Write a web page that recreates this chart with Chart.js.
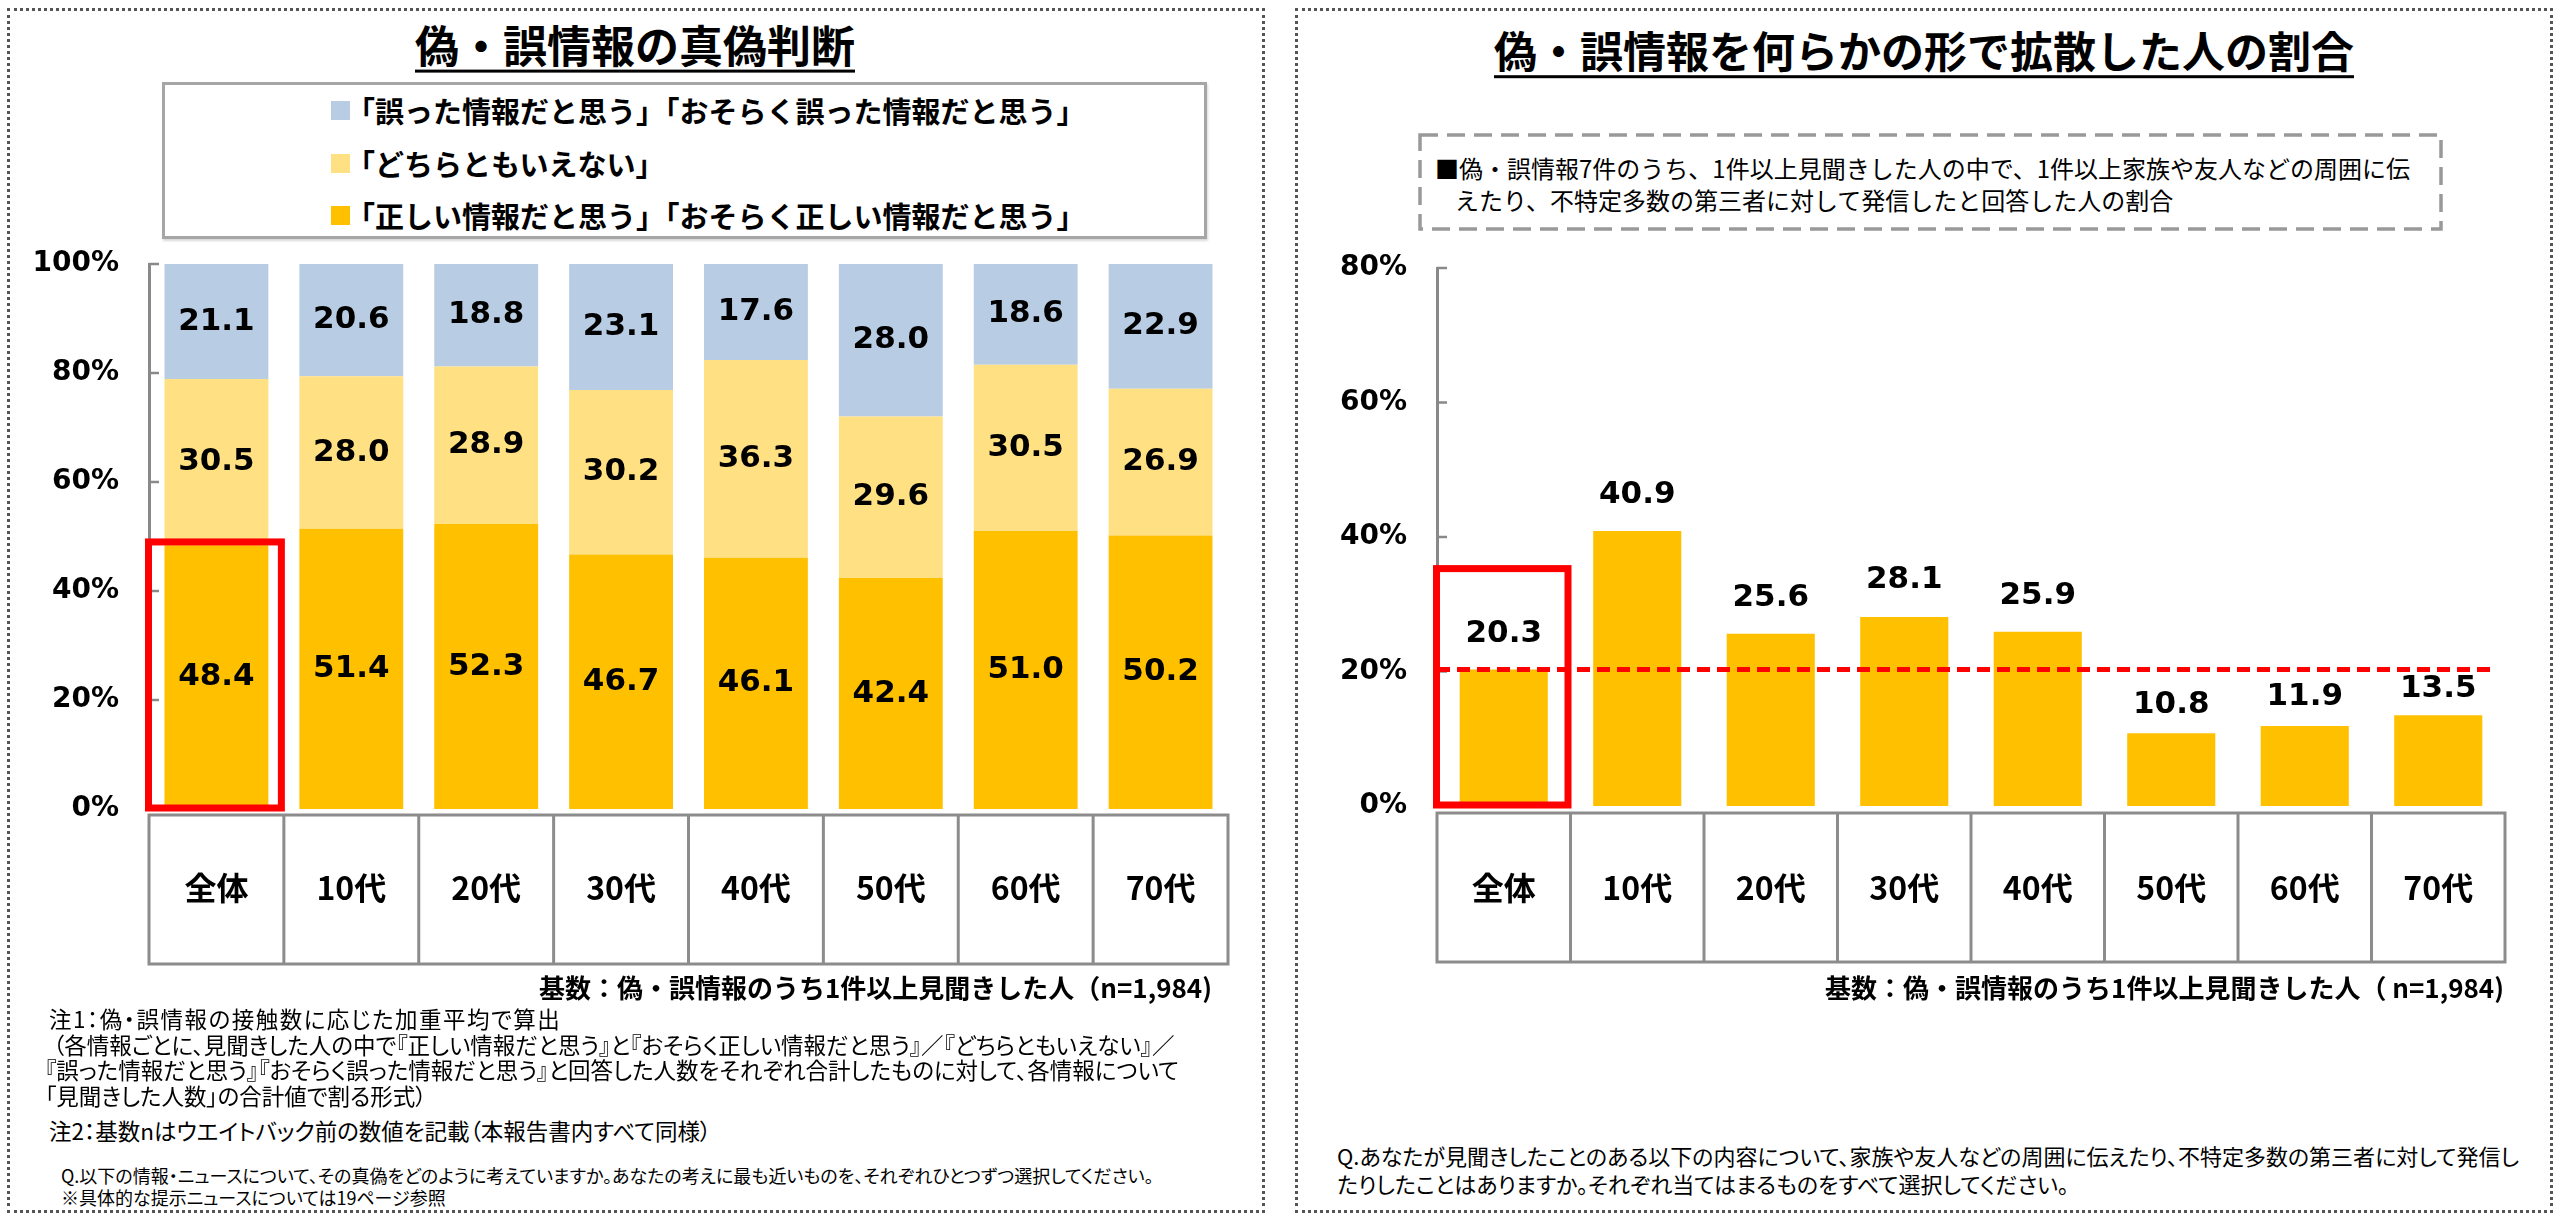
<!DOCTYPE html>
<html lang="ja">
<head>
<meta charset="utf-8">
<title>偽・誤情報の真偽判断／拡散した人の割合</title>
<script src="https://cdn.jsdelivr.net/npm/chart.js@4.4.1/dist/chart.umd.min.js"></script>
<style>
  html, body { margin: 0; padding: 0; background: #fff; }
  body { width: 2560px; height: 1220px; position: relative; overflow: hidden;
         font-family: "Noto Sans CJK JP", sans-serif; color: #000; }
  .panel { position: absolute; box-sizing: border-box; border: 3px dotted #555; }
  .t { position: absolute; white-space: nowrap; line-height: 1.2; transform: translateY(-50%); }
  .title { font-size: 44px; font-weight: 700; transform: translate(-50%, -50%);
           text-decoration: underline; text-decoration-thickness: 3px; text-underline-offset: 7px; }
  .legend { position: absolute; box-sizing: border-box; left: 162px; top: 82px; width: 1045px; height: 157px;
            border: 3px solid #a6a6a6; box-shadow: 1px 2px 2px rgba(0,0,0,0.15); }
  .mark { position: absolute; width: 19px; height: 19px; }
  .leg { font-size: 29px; font-weight: 700; }
  .base { font-size: 26px; font-weight: 700; transform: translate(-100%, -50%); }
  .note { font-size: 22.5px; font-feature-settings: "palt"; }
  .q { font-feature-settings: "palt"; }
  .box { font-size: 24px; }
  canvas { position: absolute; }
</style>
</head>
<body>
<div class="panel" style="left:7px; top:8px; width:1258px; height:1205px;"></div>
<div class="panel" style="left:1295px; top:8px; width:1258px; height:1205px;"></div>

<div class="t title" style="left:635px; top:44px;">偽・誤情報の真偽判断</div>
<div class="t title" style="left:1924px; top:50px; font-size:43px;">偽・誤情報を何らかの形で拡散した人の割合</div>

<div class="legend"></div>
<div id="legendRows"></div>

<svg style="position:absolute; left:1418px; top:133px;" width="1026" height="98">
  <rect x="2" y="2" width="1021" height="94" fill="none" stroke="#999" stroke-width="3.5" stroke-dasharray="18 9"/>
</svg>
<div class="t box" style="left:1435px; top:168px;">■偽・誤情報7件のうち、1件以上見聞きした人の中で、1件以上家族や友人などの周囲に伝</div>
<div class="t box" style="left:1455px; top:200px;">えたり、不特定多数の第三者に対して発信したと回答した人の割合</div>

<canvas id="judgeChart" width="1260" height="740" style="left:0px; top:240px;"></canvas>
<canvas id="spreadChart" width="1260" height="740" style="left:1290px; top:240px;"></canvas>

<div class="t base" style="left:1212px; top:987px;">基数：偽・誤情報のうち1件以上見聞きした人（n=1,984)</div>
<div class="t base" style="left:2504px; top:987px;">基数：偽・誤情報のうち1件以上見聞きした人（ n=1,984)</div>

<div class="t note" style="left:49px; top:1018px; letter-spacing:1.5px;">注1：偽・誤情報の接触数に応じた加重平均で算出</div>
<div class="t note" style="left:53px; top:1044px;">（各情報ごとに、見聞きした人の中で『正しい情報だと思う』と『おそらく正しい情報だと思う』／『どちらともいえない』／</div>
<div class="t note" style="left:45px; top:1069px;">『誤った情報だと思う』『おそらく誤った情報だと思う』と回答した人数をそれぞれ合計したものに対して、各情報について</div>
<div class="t note" style="left:45px; top:1095px;">「見聞きした人数」の合計値で割る形式）</div>
<div class="t note" style="left:49px; top:1130px;">注2：基数nはウエイトバック前の数値を記載（本報告書内すべて同様）</div>
<div class="t q" style="left:61px; top:1176px; font-size:18px;">Q.以下の情報・ニュースについて、その真偽をどのように考えていますか。あなたの考えに最も近いものを、それぞれひとつずつ選択してください。</div>
<div class="t q" style="left:61px; top:1198px; font-size:18px;">※具体的な提示ニュースについては19ページ参照</div>

<div class="t q" style="left:1337px; top:1155px; font-size:22px;">Q.あなたが見聞きしたことのある以下の内容について、家族や友人などの周囲に伝えたり、不特定多数の第三者に対して発信し</div>
<div class="t q" style="left:1337px; top:1183px; font-size:22px;">たりしたことはありますか。それぞれ当てはまるものをすべて選択してください。</div>

<script>
// categories shared by both charts
const ageGroups = ['全体', '10代', '20代', '30代', '40代', '50代', '60代', '70代'];

// left: 偽・誤情報の真偽判断 (%)
const judgeSeries = [
  '「正しい情報だと思う」「おそらく正しい情報だと思う」',
  '「どちらともいえない」',
  '「誤った情報だと思う」「おそらく誤った情報だと思う」'
];
const judgeTrue = [48.4, 51.4, 52.3, 46.7, 46.1, 42.4, 51.0, 50.2];
const judgeNeither = [30.5, 28.0, 28.9, 30.2, 36.3, 29.6, 30.5, 26.9];
const judgeFalse = [21.1, 20.6, 18.8, 23.1, 17.6, 28.0, 18.6, 22.9];
const judgeTicks = [0, 20, 40, 60, 80, 100];
const judgeHighlightTop = 49;

// right: 偽・誤情報を何らかの形で拡散した人の割合 (%)
const spreadRate = [20.3, 40.9, 25.6, 28.1, 25.9, 10.8, 11.9, 13.5];
const spreadAverage = 20.3;
const spreadTicks = [0, 20, 40, 60, 80];
const spreadHighlightTop = 35.3;

const colorTrue = '#FFC000';
const colorNeither = '#FFE083';
const colorFalse = '#B8CCE4';
const axisGray = '#898989';
const tableGray = '#8c8c8c';
const red = '#FF0000';
const jpFont = '"Noto Sans CJK JP", sans-serif';
const numFont = '"DejaVu Sans", sans-serif';
// gap between bar top and label centre (px); the small bars sit closer
const spreadLabelGap = [36, 36, 36, 37, 36, 28, 29, 26];

// html legend, top row = top segment
const legendRows = document.getElementById('legendRows');
const legendColors = [colorTrue, colorNeither, colorFalse];
const legendY = [110, 163, 215];
[2, 1, 0].forEach((si, row) => {
  const m = document.createElement('div');
  m.className = 'mark';
  m.style.left = '331px';
  m.style.top = (legendY[row] - 9.5) + 'px';
  m.style.background = legendColors[si];
  legendRows.appendChild(m);
  const t = document.createElement('div');
  t.className = 't leg';
  t.style.left = '346px';
  t.style.top = legendY[row] + 'px';
  t.textContent = judgeSeries[si];
  legendRows.appendChild(t);
});

// axis ticks inside the plot, the category table, value labels,
// the red highlight box and the average line
const decorPlugin = {
  id: 'decor',
  afterDatasetsDraw(chart, args, opts) {
    const { ctx, chartArea: area, scales: { x, y } } = chart;
    const n = chart.data.labels.length;
    const catW = x.getPixelForValue(1) - x.getPixelForValue(0);
    const tLeft = x.getPixelForValue(0) - catW / 2;
    const tRight = x.getPixelForValue(n - 1) + catW / 2;
    ctx.save();

    ctx.strokeStyle = axisGray;
    ctx.lineWidth = 2.5;
    y.ticks.forEach(t => {
      if (t.value === y.min) return;
      const py = y.getPixelForValue(t.value);
      ctx.beginPath();
      ctx.moveTo(area.left, py);
      ctx.lineTo(area.left + 10, py);
      ctx.stroke();
    });

    const top = area.bottom + opts.tableGap;
    const bottom = top + opts.tableHeight;
    ctx.strokeStyle = tableGray;
    ctx.lineWidth = 3;
    ctx.strokeRect(tLeft, top, tRight - tLeft, bottom - top);
    for (let i = 1; i < n; i++) {
      const px = tLeft + catW * i;
      ctx.beginPath();
      ctx.moveTo(px, top);
      ctx.lineTo(px, bottom);
      ctx.stroke();
    }

    ctx.fillStyle = '#000';
    ctx.font = 'bold 31px ' + numFont;
    ctx.textAlign = 'center';
    ctx.textBaseline = 'middle';
    chart.data.datasets.forEach((ds, di) => {
      chart.getDatasetMeta(di).data.forEach((bar, i) => {
        const cy = opts.labelMode === 'center' ? (bar.y + bar.base) / 2 : bar.y - opts.labelGap[i];
        ctx.fillText(ds.data[i].toFixed(1), bar.x, cy);
      });
    });

    if (opts.average !== undefined) {
      const ay = y.getPixelForValue(opts.average);
      ctx.strokeStyle = red;
      ctx.lineWidth = 5;
      ctx.setLineDash([13, 7]);
      ctx.beginPath();
      ctx.moveTo(area.left, ay);
      ctx.lineTo(area.right - 9, ay);
      ctx.stroke();
      ctx.setLineDash([]);
    }

    const hy0 = y.getPixelForValue(opts.highlightTop);
    const hy1 = y.getPixelForValue(0) - 1;
    ctx.strokeStyle = red;
    ctx.lineWidth = 7;
    ctx.strokeRect(tLeft - 0.5, hy0, catW - 2, hy1 - hy0);
    ctx.restore();
  }
};

function valueAxis(ticks, width) {
  return {
    min: ticks[0],
    max: ticks[ticks.length - 1],
    afterBuildTicks: s => { s.ticks = ticks.map(v => ({ value: v })); },
    grid: { display: false, drawTicks: false },
    border: { display: true, color: axisGray, width: 3 },
    ticks: { color: '#000', padding: 30, font: { family: numFont, size: 28, weight: 'bold' },
             callback: v => v + '%' },
    afterFit: s => { s.width = width; s.paddingTop = 0; s.paddingBottom = 0; }
  };
}

function categoryAxis(height, padding) {
  return {
    grid: { display: false, drawTicks: false },
    border: { display: false },
    ticks: { color: '#000', padding: padding, font: { family: jpFont, size: 32, weight: 'bold' } },
    afterFit: s => { s.height = height; s.paddingLeft = 0; s.paddingRight = 0; }
  };
}

const judgeY = valueAxis(judgeTicks, 149);
judgeY.stacked = true;
const judgeX = categoryAxis(171, 60);
judgeX.stacked = true;

new Chart(document.getElementById('judgeChart'), {
  type: 'bar',
  data: {
    labels: ageGroups,
    datasets: [
      { label: judgeSeries[0], data: judgeTrue, backgroundColor: colorTrue },
      { label: judgeSeries[1], data: judgeNeither, backgroundColor: colorNeither },
      { label: judgeSeries[2], data: judgeFalse, backgroundColor: colorFalse }
    ]
  },
  options: {
    responsive: false,
    animation: false,
    layout: { padding: { top: 24, right: 32, left: 0, bottom: 0 } },
    datasets: { bar: { categoryPercentage: 1, barPercentage: 0.77, borderWidth: 0 } },
    scales: { x: judgeX, y: judgeY },
    plugins: {
      legend: { display: false },
      tooltip: { enabled: false },
      decor: { labelMode: 'center', tableGap: 6, tableHeight: 149, highlightTop: judgeHighlightTop }
    }
  },
  plugins: [decorPlugin]
});

new Chart(document.getElementById('spreadChart'), {
  type: 'bar',
  data: {
    labels: ageGroups,
    datasets: [
      { label: '拡散した人の割合', data: spreadRate, backgroundColor: colorTrue }
    ]
  },
  options: {
    responsive: false,
    animation: false,
    layout: { padding: { top: 28, right: 45, left: 0, bottom: 0 } },
    datasets: { bar: { categoryPercentage: 1, barPercentage: 0.66, borderWidth: 0 } },
    scales: { x: categoryAxis(174, 63), y: valueAxis(spreadTicks, 147) },
    plugins: {
      legend: { display: false },
      tooltip: { enabled: false },
      decor: { labelMode: 'top', labelGap: spreadLabelGap, tableGap: 7, tableHeight: 149,
               highlightTop: spreadHighlightTop, average: spreadAverage }
    }
  },
  plugins: [decorPlugin]
});
</script>
</body>
</html>
